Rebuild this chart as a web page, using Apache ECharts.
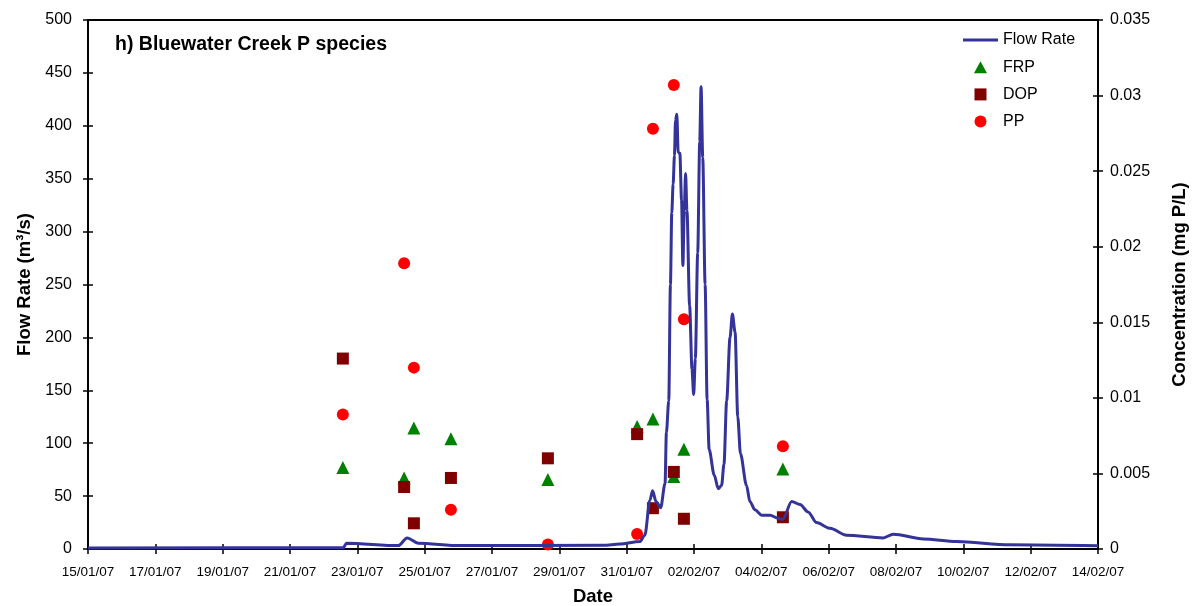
<!DOCTYPE html>
<html lang="en">
<head>
    <meta charset="UTF-8">
    <title>h) Bluewater Creek P species</title>
    <script src="https://cdn.jsdelivr.net/npm/echarts@6.0.0/dist/echarts.min.js"></script>
    <style>
        html, body { margin: 0; padding: 0; background: #fff; }
        #chart { width: 1199px; height: 606px; }
    </style>
</head>
<body>
    <div id="chart"></div>
    <script>
    // x positions are days after 15/01/07 00:00
    const startDate = Date.UTC(2007, 0, 15);

    // flow rate (m3/s)
    const flowDay = [0, 7.58, 7.68, 9.22, 9.48, 9.81, 11.05, 15.30, 15.80, 16.39, 16.54, 16.69, 16.77, 16.87, 17.01,
        17.14, 17.18, 17.25, 17.30, 17.34, 17.38, 17.42, 17.45, 17.49, 17.53, 17.58, 17.63, 17.67, 17.71, 17.75,
        17.79, 17.87, 17.94, 17.99, 18.04, 18.11, 18.17, 18.21, 18.26, 18.33, 18.39, 18.45, 18.60, 18.72, 18.82,
        18.89, 18.97, 19.07, 19.14, 19.22, 19.30, 19.38, 19.56, 19.66, 19.81, 20.01, 20.26, 20.50, 20.64, 20.90,
        21.15, 21.39, 21.64, 22.04, 22.53, 23.62, 23.92, 24.81, 25.80, 27.38, 30];
    const flowRate = [1.0, 1.2, 5.5, 3.2, 10.5, 5.5, 3.2, 3.5, 4.7, 7, 13, 46, 55, 45, 39,
        62, 110, 140, 250, 318, 345, 372, 405, 411, 375, 374, 330, 268, 320, 355,
        320, 230, 170, 146, 180, 280, 385, 437, 370, 250, 141, 94, 70, 57, 60,
        80, 140, 200, 222, 205, 125, 90, 60, 45, 37, 32, 32, 29, 28, 45,
        42, 35, 25, 19.5, 13, 10.5, 14, 9.5, 7, 4, 3];

    // water samples (mg P/L)
    const sampleDay = [7.57, 9.39, 9.68, 10.78, 13.66, 16.31, 16.78, 17.40, 17.70, 20.64];
    const frp = [0.0054, 0.0047, 0.0080, 0.0073, 0.0046, 0.0081, 0.0086, 0.0048, 0.0066, 0.0053];
    const dop = [0.0126, 0.0041, 0.0017, 0.0047, 0.0060, 0.0076, 0.0027, 0.0051, 0.0020, 0.0021];
    const pp  = [0.0089, 0.0189, 0.0120, 0.0026, 0.0003, 0.0010, 0.0278, 0.0307, 0.0152, 0.0068];

    const FONT = "'Liberation Sans', Arial, sans-serif";

    function pairs(xs, ys) {
        return xs.map((x, i) => [x, ys[i]]);
    }

    function dateLabel(v) {
        const d = new Date(startDate + v * 86400000);
        const p = n => String(n).padStart(2, '0');
        return p(d.getUTCDate()) + '/' + p(d.getUTCMonth() + 1) + '/' + p(d.getUTCFullYear() % 100);
    }

    const axisLine = { show: true, onZero: false, lineStyle: { color: '#000', width: 2 } };
    const tickOut = { show: true, length: 5, lineStyle: { color: '#000', width: 1.5 } };
    const tickIn = { show: true, inside: true, length: 5, lineStyle: { color: '#000', width: 1.5 } };
    const nameStyle = { fontFamily: FONT, fontWeight: 'bold', fontSize: 18.5, color: '#000' };

    // mirror axes only draw the inner half of the crossing ticks
    function mirror(base, pos) {
        return Object.assign({}, base, {
            position: pos, name: '', axisLine: { show: false, onZero: false }, axisLabel: { show: false },
            axisTick: tickIn, splitLine: { show: false }
        });
    }

    const xBase = { type: 'value', min: 0, max: 30, interval: 2 };
    const yFlow = { type: 'value', min: 0, max: 500, interval: 50 };
    const yConc = { type: 'value', min: 0, max: 0.035, interval: 0.005 };

    const chart = echarts.init(document.getElementById('chart'));
    chart.setOption({
        animation: false,
        backgroundColor: '#fff',
        title: {
            text: 'h) Bluewater Creek P species',
            left: 110, top: 30,
            textStyle: { fontFamily: FONT, fontWeight: 'bold', fontSize: 19.5, color: '#000' }
        },
        legend: {
            orient: 'vertical', left: 963, top: 32, padding: 0,
            itemWidth: 35, itemHeight: 12, itemGap: 11.2, symbolKeepAspect: true,
            textStyle: { fontFamily: FONT, fontSize: 16, color: '#000' },
            data: [
                { name: 'Flow Rate', icon: 'path://M0 0H35V3H0Z' },
                { name: 'FRP', icon: 'path://M6 0L12 11H0Z' },
                { name: 'DOP', icon: 'path://M0 0H11V11H0Z' },
                { name: 'PP', icon: 'circle' }
            ]
        },
        grid: { left: 88, right: 101, top: 20, bottom: 57, outerBoundsMode: 'none' },
        xAxis: [
            Object.assign({}, xBase, {
                position: 'bottom',
                name: 'Date', nameLocation: 'middle', nameGap: 38, nameTextStyle: nameStyle,
                axisLine: axisLine, axisTick: tickOut, splitLine: { show: false },
                axisLabel: { formatter: dateLabel, fontFamily: FONT, fontSize: 13.5, color: '#000', margin: 16 }
            }),
            mirror(xBase, 'bottom'),
            Object.assign({}, xBase, {
                position: 'top', axisLine: axisLine, axisTick: { show: false },
                axisLabel: { show: false }, splitLine: { show: false }
            })
        ],
        yAxis: [
            Object.assign({}, yFlow, {
                position: 'left',
                name: 'Flow Rate (m³/s)', nameLocation: 'middle', nameGap: 48, nameTextStyle: nameStyle,
                axisLine: axisLine, axisTick: tickOut, splitLine: { show: false },
                axisLabel: { fontFamily: FONT, fontSize: 16, color: '#000', margin: 16 }
            }),
            Object.assign({}, yConc, {
                position: 'right',
                name: 'Concentration (mg P/L)', nameLocation: 'middle', nameGap: 72, nameTextStyle: nameStyle,
                axisLine: axisLine, axisTick: tickOut, splitLine: { show: false },
                axisLabel: { fontFamily: FONT, fontSize: 16, color: '#000', margin: 12 }
            }),
            mirror(yFlow, 'left'),
            mirror(yConc, 'right')
        ],
        series: [
            {
                name: 'Flow Rate', type: 'line', xAxisIndex: 0, yAxisIndex: 0,
                data: pairs(flowDay, flowRate),
                showSymbol: false, symbol: 'none', smooth: 0.3, smoothMonotone: 'x',
                lineStyle: { color: '#333399', width: 3 }, itemStyle: { color: '#333399' }
            },
            {
                name: 'FRP', type: 'scatter', xAxisIndex: 0, yAxisIndex: 1,
                data: pairs(sampleDay, frp), symbol: 'triangle', symbolSize: 13,
                itemStyle: { color: '#008000', opacity: 1 }
            },
            {
                name: 'DOP', type: 'scatter', xAxisIndex: 0, yAxisIndex: 1,
                data: pairs(sampleDay, dop), symbol: 'rect', symbolSize: 12,
                itemStyle: { color: '#800000', opacity: 1 }
            },
            {
                name: 'PP', type: 'scatter', xAxisIndex: 0, yAxisIndex: 1,
                data: pairs(sampleDay, pp), symbol: 'circle', symbolSize: 12,
                itemStyle: { color: '#ff0000', opacity: 1 }
            }
        ]
    });
    </script>
</body>
</html>
